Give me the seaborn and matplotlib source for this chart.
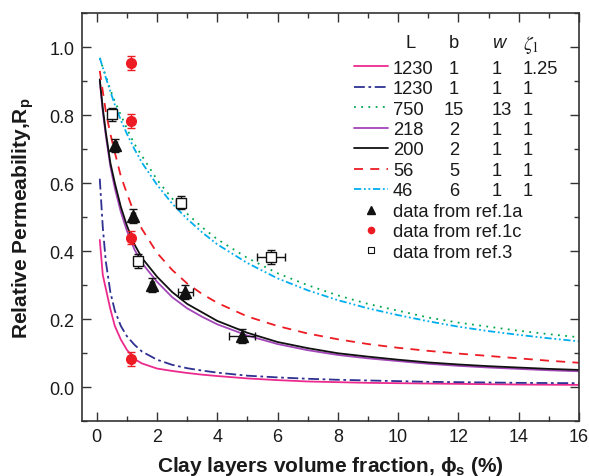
import numpy as np
import pandas as pd
import matplotlib
matplotlib.use("Agg")
import matplotlib.pyplot as plt
import seaborn as sns
from matplotlib.lines import Line2D
from matplotlib.ticker import MultipleLocator

# model curves
x_grid = [0.1, 0.2, 0.3, 0.45, 0.6, 0.8, 1.0, 1.25, 1.5, 2.0, 2.5, 3.0, 3.5, 4.0,
          5.0, 6.0, 7.0, 8.0, 9.0, 10.0, 11.0, 12.0, 13.0, 14.0, 15.0, 16.0]

rp_1230_z125 = [0.433, 0.33, 0.29, 0.23, 0.18, 0.14, 0.11, 0.083, 0.07, 0.055, 0.048, 0.042, 0.037, 0.033,
                0.026, 0.021, 0.017, 0.015, 0.013, 0.012, 0.011, 0.010, 0.009, 0.008, 0.0075, 0.007]
rp_1230 = [0.613, 0.47, 0.37, 0.28, 0.225, 0.18, 0.15, 0.125, 0.105, 0.081, 0.066, 0.056, 0.049, 0.043,
           0.034, 0.029, 0.025, 0.022, 0.020, 0.018, 0.016, 0.015, 0.014, 0.013, 0.0125, 0.012]
rp_750 = [0.968, 0.94, 0.915, 0.875, 0.84, 0.80, 0.76, 0.715, 0.68, 0.61, 0.555, 0.51, 0.47, 0.435,
          0.38, 0.335, 0.30, 0.27, 0.245, 0.225, 0.205, 0.19, 0.178, 0.166, 0.156, 0.147]
rp_218 = [0.90, 0.81, 0.74, 0.65, 0.585, 0.515, 0.46, 0.405, 0.365, 0.31, 0.265, 0.232, 0.207, 0.185,
          0.152, 0.127, 0.109, 0.095, 0.085, 0.077, 0.069, 0.063, 0.058, 0.054, 0.05, 0.047]
rp_200 = [0.905, 0.82, 0.75, 0.66, 0.60, 0.53, 0.475, 0.42, 0.38, 0.325, 0.28, 0.245, 0.22, 0.195,
          0.16, 0.133, 0.115, 0.10, 0.09, 0.081, 0.073, 0.067, 0.062, 0.058, 0.054, 0.051]
rp_56 = [0.93, 0.87, 0.81, 0.745, 0.69, 0.62, 0.57, 0.51, 0.465, 0.395, 0.345, 0.305, 0.274, 0.248,
         0.208, 0.18, 0.158, 0.141, 0.127, 0.116, 0.107, 0.099, 0.092, 0.085, 0.078, 0.072]
rp_46 = [0.968, 0.94, 0.91, 0.87, 0.83, 0.785, 0.745, 0.70, 0.66, 0.595, 0.54, 0.495, 0.455, 0.42,
         0.365, 0.32, 0.285, 0.256, 0.232, 0.212, 0.194, 0.178, 0.165, 0.154, 0.144, 0.135]

col_L = ["1230", "1230", "750", "218", "200", "56", "46"]
col_b = ["1", "1", "15", "2", "2", "5", "6"]
col_w = ["1", "1", "13", "1", "1", "1", "1"]
col_z = ["1.25", "1", "1", "1", "1", "1", "1"]

# experimental points
ref1a_x = [0.6, 1.2, 1.83, 2.93, 4.82]
ref1a_y = [0.711, 0.503, 0.30, 0.28, 0.15]
ref1a_xerr = [0.06, 0.06, 0.06, 0.25, 0.42]
ref1a_yerr = [0.02, 0.02, 0.02, 0.02, 0.02]

ref1c_x = [1.14, 1.14, 1.14, 1.14]
ref1c_y = [0.954, 0.783, 0.44, 0.083]
ref1c_xerr = [0.1, 0.1, 0.1, 0.1]
ref1c_yerr = [0.02, 0.02, 0.02, 0.02]

ref3_x = [0.49, 1.38, 2.79, 5.78]
ref3_y = [0.802, 0.372, 0.543, 0.382]
ref3_xerr = [0.1, 0.1, 0.15, 0.48]
ref3_yerr = [0.02, 0.02, 0.02, 0.02]

sns.set_theme(style="ticks")
plt.rcParams['font.family'] = ['Liberation Sans', 'DejaVu Sans']
plt.rcParams['mathtext.fontset'] = 'custom'
plt.rcParams['mathtext.rm'] = 'Liberation Sans'
plt.rcParams['mathtext.bf'] = 'Liberation Sans:bold'
plt.rcParams['mathtext.it'] = 'Liberation Sans:italic'
TXT = '#1a1a1a'
FS = 13.2

fig, ax = plt.subplots(figsize=(5.89, 4.77), dpi=100)
fig.subplots_adjust(left=0.1387, right=0.983, bottom=0.1147, top=0.9706)

curves = [
    (rp_1230_z125, '#ec2a8e', '-'),
    (rp_1230, '#2e3192', (0, (6, 2, 1.5, 2))),
    (rp_750, '#00a651', (0, (1, 3))),
    (rp_218, '#a245b8', '-'),
    (rp_200, '#111111', '-'),
    (rp_56, '#ed1c24', (0, (5, 4))),
    (rp_46, '#00aeef', (0, (4, 1.5, 1, 1.5, 1, 1.5))),
]
handles = []
for vals, color, ls in curves:
    df = pd.DataFrame({'phi': x_grid, 'rp': vals})
    sns.lineplot(data=df, x='phi', y='rp', ax=ax, color=color, linewidth=1.3,
                 errorbar=None, legend=False)
    ax.lines[-1].set_linestyle(ls)
    handles.append(Line2D([], [], color=color, linestyle=ls, linewidth=1.3))

ax.errorbar(ref1a_x, ref1a_y, xerr=ref1a_xerr, yerr=ref1a_yerr, fmt='^', color='#111111',
            ms=8, elinewidth=1, capsize=3)
ax.errorbar(ref1c_x, ref1c_y, xerr=ref1c_xerr, yerr=ref1c_yerr, fmt='o', color='#ed1c24',
            ms=7, elinewidth=1, capsize=3)
ax.errorbar(ref3_x, ref3_y, xerr=ref3_xerr, yerr=ref3_yerr, fmt='s', color='#111111',
            mfc='white', ms=7, mew=1, elinewidth=1, capsize=3)

handles += [Line2D([], [], marker='^', ls='none', color='#111111', ms=6),
            Line2D([], [], marker='o', ls='none', color='#ed1c24', ms=4.5),
            Line2D([], [], marker='s', ls='none', color='#111111', mfc='white', ms=4.5, mew=0.8)]
labels = col_L + ["data from ref.1a", "data from ref.1c", "data from ref.3"]

leg = ax.legend(handles, labels, loc='upper left', bbox_to_anchor=(0.5476, 0.886),
                frameon=False, fontsize=FS, handlelength=1.86, handletextpad=0.27,
                labelspacing=0.19, borderpad=0, borderaxespad=0)
for t in leg.get_texts():
    t.set_color(TXT)

ax.set_xlim(-0.5, 16)
ax.set_ylim(-0.1, 1.1)
ax.set_xticks(range(0, 17, 2))
ax.set_yticks([0.0, 0.2, 0.4, 0.6, 0.8, 1.0])
ax.set_yticklabels(['0.0', '0.2', '0.4', '0.6', '0.8', '1.0'])
ax.xaxis.set_minor_locator(MultipleLocator(1))
ax.yaxis.set_minor_locator(MultipleLocator(0.1))
ax.tick_params(which='both', direction='in', top=True, right=True, colors='#333333',
               labelcolor=TXT, labelsize=13, width=1)
ax.tick_params(which='major', length=6.5, pad=5)
ax.tick_params(which='minor', length=3.5)
for s in ax.spines.values():
    s.set_linewidth(1.2)
    s.set_color('#333333')

ax.set_xlabel('Clay layers volume fraction, ϕ$_\\mathbf{s}$ (%)', fontsize=15,
              fontweight='bold', color=TXT)
ax.set_ylabel('Relative Permeability,R$_\\mathbf{p}$', fontsize=15,
              fontweight='bold', color=TXT)
ax.xaxis.set_label_coords(0.5, -0.08)
ax.yaxis.set_label_coords(-0.092, 0.5)

# table columns next to the legend labels
fig.canvas.draw()
inv = ax.transAxes.inverted()
ppx = 1.0 / ax.bbox.width
ppy = 1.0 / ax.bbox.height
texts = leg.get_texts()
bb0 = texts[0].get_window_extent()
x0, _ = inv.transform((bb0.x0, 0))
for i in range(len(col_L)):
    bb = texts[i].get_window_extent()
    _, yc = inv.transform((0, (bb.y0 + bb.y1) / 2))
    ax.text(x0 + 61 * ppx, yc, col_b[i], transform=ax.transAxes, ha='center', va='center',
            fontsize=FS, color=TXT)
    ax.text(x0 + 99 * ppx, yc, col_w[i], transform=ax.transAxes, ha='left', va='center',
            fontsize=FS, color=TXT)
    ax.text(x0 + 130 * ppx, yc, col_z[i], transform=ax.transAxes, ha='left', va='center',
            fontsize=FS, color=TXT)
_, y_first = inv.transform((0, (bb0.y0 + bb0.y1) / 2))
yh = y_first + 26 * ppy
ax.text(x0 + 18 * ppx, yh, 'L', transform=ax.transAxes, ha='center', va='center',
        fontsize=FS, color=TXT)
ax.text(x0 + 61 * ppx, yh, 'b', transform=ax.transAxes, ha='center', va='center',
        fontsize=FS, color=TXT)
ax.text(x0 + 99 * ppx, yh, 'w', transform=ax.transAxes, ha='left', va='center',
        fontsize=FS, color=TXT, style='italic')
ax.text(x0 + 130 * ppx, yh - 2 * ppy, r'$\zeta_1$', transform=ax.transAxes, ha='left', va='center',
        fontsize=14, color=TXT, math_fontfamily='stix')

plt.savefig('out.png', dpi=100)
plt.close()
